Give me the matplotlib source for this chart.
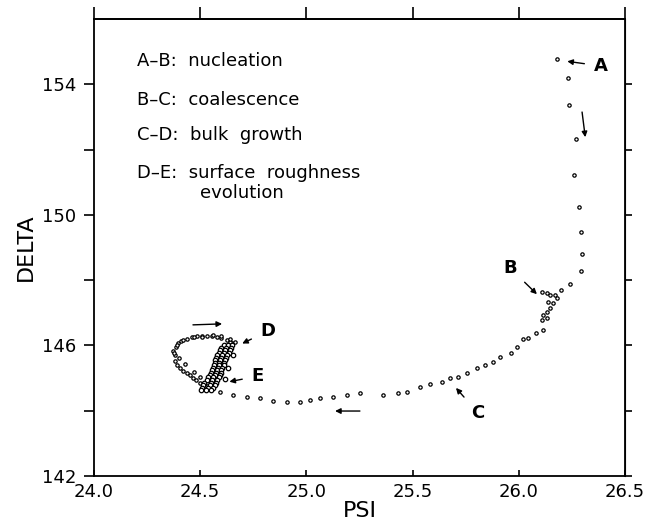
import matplotlib
matplotlib.use('Agg')
import matplotlib.pyplot as plt

# A-B: nucleation
psi_ab = [26.181, 26.230, 26.235, 26.268, 26.259, 26.285, 26.291, 26.299, 26.291, 26.240, 26.200]
delta_ab = [154.77, 154.18, 153.36, 152.31, 151.21, 150.24, 149.47, 148.80, 148.29, 147.89, 147.70]

# B-C: coalescence
psi_bc = [26.108, 26.131, 26.147, 26.170, 26.181, 26.139, 26.162, 26.147, 26.131, 26.115, 26.131, 26.108,
          26.112, 26.083, 26.045, 26.020, 25.992, 25.963, 25.911, 25.879, 25.841, 25.803, 25.756, 25.714]
delta_bc = [147.65, 147.60, 147.54, 147.54, 147.44, 147.34, 147.29, 147.14, 147.03, 146.93, 146.83, 146.78,
            146.47, 146.37, 146.22, 146.20, 145.95, 145.77, 145.64, 145.49, 145.40, 145.31, 145.15, 145.03]

# C-D: bulk growth
psi_cd = [25.676, 25.638, 25.582, 25.535, 25.474, 25.431, 25.361, 25.252, 25.191, 25.125, 25.064, 25.017,
          24.970, 24.909, 24.843, 24.782, 24.720, 24.654, 24.593, 24.546, 24.532, 24.499, 24.466, 24.438,
          24.405, 24.381, 24.372, 24.395, 24.438, 24.485, 24.532, 24.579, 24.626, 24.650,
          24.380, 24.385, 24.410, 24.460, 24.510, 24.555, 24.600, 24.640, 24.390, 24.420, 24.450, 24.480,
          24.515, 24.400, 24.375, 24.390, 24.420, 24.470, 24.510, 24.560, 24.600, 24.640, 24.665,
          24.430, 24.470, 24.500]
delta_cd = [145.00, 144.88, 144.82, 144.73, 144.57, 144.54, 144.48, 144.54, 144.48, 144.42, 144.39, 144.33,
            144.27, 144.27, 144.30, 144.39, 144.42, 144.48, 144.57, 144.70, 144.76, 144.85, 145.00, 145.15,
            145.31, 145.52, 145.83, 146.07, 146.20, 146.29, 146.29, 146.26, 146.17, 146.07,
            145.70, 145.95, 146.13, 146.25, 146.30, 146.28, 146.22, 146.12, 145.40, 145.22, 145.08, 144.93,
            144.80, 145.60, 145.78, 146.00, 146.16, 146.27, 146.26, 146.31, 146.28, 146.20, 146.10,
            145.42, 145.20, 145.02]

# D-E: surface roughness evolution
psi_de = [24.610, 24.630, 24.650, 24.600, 24.620, 24.645, 24.595, 24.617, 24.640, 24.590, 24.610, 24.635,
          24.580, 24.603, 24.625, 24.575, 24.598, 24.620, 24.570, 24.593, 24.615, 24.570, 24.590, 24.612,
          24.565, 24.589, 24.610, 24.560, 24.584, 24.605, 24.555, 24.579, 24.600, 24.550, 24.575, 24.598,
          24.545, 24.570, 24.595, 24.535, 24.562, 24.590, 24.530, 24.556, 24.580, 24.520, 24.550, 24.575,
          24.515, 24.546, 24.570, 24.510, 24.535, 24.560, 24.505, 24.527, 24.550,
          24.655, 24.630, 24.615]
delta_de = [146.01, 146.01, 146.01, 145.93, 145.93, 145.93, 145.86, 145.86, 145.86, 145.78, 145.78, 145.78,
            145.71, 145.71, 145.71, 145.63, 145.63, 145.63, 145.55, 145.55, 145.55, 145.47, 145.47, 145.47,
            145.40, 145.40, 145.40, 145.32, 145.32, 145.32, 145.25, 145.25, 145.25, 145.17, 145.17, 145.17,
            145.09, 145.09, 145.09, 145.02, 145.02, 145.02, 144.94, 144.94, 144.94, 144.86, 144.86, 144.86,
            144.79, 144.79, 144.79, 144.71, 144.71, 144.71, 144.63, 144.63, 144.63,
            145.70, 145.30, 144.98]

x_ticks = [24.0, 24.5, 25.0, 25.5, 26.0, 26.5]
y_major = [142, 146, 150, 154]
y_minor = [144, 148, 152]

legend_lines = ['A\u2013B:  nucleation', 'B\u2013C:  coalescence', 'C\u2013D:  bulk  growth',
                'D\u2013E:  surface  roughness']

fig = plt.figure(figsize=(6.5, 5.31), dpi=100)
ax = fig.add_axes([0.1446, 0.1036, 0.8169, 0.8606])

style = dict(linestyle='none', marker='o', mfc='white', mec='black')
for px, dy in [(psi_ab, delta_ab), (psi_bc, delta_bc), (psi_cd, delta_cd)]:
    ax.plot(px, dy, ms=2.4, mew=0.9, **style)
ax.plot(psi_de, delta_de, ms=3.2, mew=0.9, **style)

ax.set_xlim(24.0, 26.5)
ax.set_ylim(142, 156)
ax.set_xticks(x_ticks)
ax.set_xticklabels(['%.1f' % v for v in x_ticks])
ax.set_yticks(y_major)
ax.set_yticks(y_minor, minor=True)

for s in ax.spines.values():
    s.set_linewidth(1.3)

ax.tick_params(axis='x', direction='in', length=4, width=1.2, labelsize=13, pad=5)
ax.tick_params(axis='y', which='both', direction='out', length=7, width=1.2, labelsize=13, pad=6)

top = ax.secondary_xaxis('top')
top.set_xticks(x_ticks)
top.tick_params(direction='out', length=9, width=1.2, labeltop=False)
top.spines['top'].set_linewidth(1.3)
right = ax.secondary_yaxis('right')
right.set_yticks(y_major)
right.set_yticks(y_minor, minor=True)
right.tick_params(which='both', direction='out', length=5, width=1.2, labelright=False)

ax.set_xlabel('PSI', fontsize=16, labelpad=0)
ax.set_ylabel('DELTA', fontsize=16, labelpad=4)

ys = [0.908, 0.823, 0.746, 0.663]
for t, yy in zip(legend_lines, ys):
    ax.text(0.081, yy, t, transform=ax.transAxes, fontsize=13, va='center', ha='left')
ax.text(0.2, 0.619, 'evolution', transform=ax.transAxes, fontsize=13, va='center', ha='left')

arrow = dict(arrowstyle='-|>', lw=1.0, color='black', mutation_scale=8, shrinkA=5, shrinkB=1)
labels = [('A', (26.222, 154.71), (26.387, 154.56)),
          ('B', (26.090, 147.54), (25.959, 148.37)),
          ('C', (25.700, 144.73), (25.808, 143.93)),
          ('D', (24.692, 146.04), (24.819, 146.44)),
          ('E', (24.631, 144.88), (24.772, 145.06))]
for name, head, pos in labels:
    ax.annotate(name, xy=head, xytext=pos, ha='center', va='center', fontsize=13,
                fontweight='bold', arrowprops=arrow)

# direction arrows
plain = dict(arrowstyle='-|>', lw=1.0, color='black', mutation_scale=8, shrinkA=0, shrinkB=0)
ax.annotate('', xy=(26.313, 152.38), xytext=(26.298, 153.15), arrowprops=plain)
ax.annotate('', xy=(24.603, 146.66), xytext=(24.466, 146.63), arrowprops=plain)
ax.annotate('', xy=(25.135, 143.99), xytext=(25.252, 143.99), arrowprops=plain)

fig.savefig('out.png', dpi=100)
